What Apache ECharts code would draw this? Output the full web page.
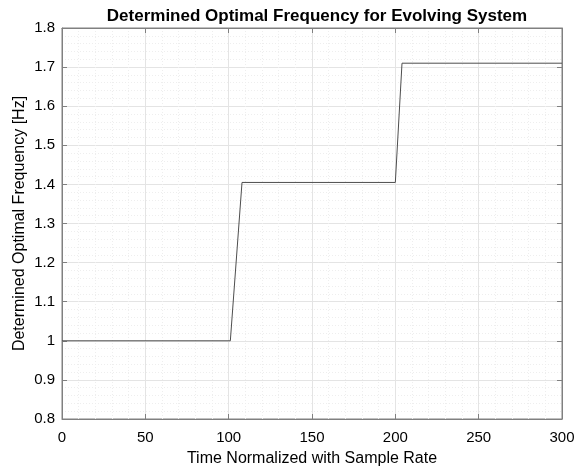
<!DOCTYPE html>
<html><head><meta charset="utf-8">
<script src="https://cdn.jsdelivr.net/npm/echarts@6/dist/echarts.min.js"></script>
<style>html,body{margin:0;padding:0;background:#fff}#c{width:577px;height:468px}</style>
</head><body><div id="c"></div>
<script>
const timeValues = [0, 101, 108, 200, 204, 300];
const freqValues = [1.0, 1.0, 1.405, 1.405, 1.71, 1.71];
const xTicks = [0, 50, 100, 150, 200, 250, 300];
const yTicks = [0.8, 0.9, 1.0, 1.1, 1.2, 1.3, 1.4, 1.5, 1.6, 1.7, 1.8];

const font = 'Liberation Sans, Arial, sans-serif';
const axisColor = '#808080';
const chart = echarts.init(document.getElementById('c'));
const fmt = v => String(Math.round(v * 100) / 100);
const common = {
  axisLine: {show: true, onZero: false, lineStyle: {color: axisColor, width: 1}},
  axisTick: {show: true, inside: true, length: 5, lineStyle: {color: axisColor}},
};
chart.setOption({
  animation: false,
  title: {text: 'Determined Optimal Frequency for Evolving System', left: 312, top: 3, textAlign: 'center',
    textStyle: {fontFamily: font, fontSize: 17, fontWeight: 'bold', color: '#000'}},
  grid: {left: 62, right: 15, top: 28, bottom: 49, show: true, borderColor: axisColor, borderWidth: 1,
    outerBoundsMode: 'none', containLabel: false},
  xAxis: [{
    type: 'value', min: xTicks[0], max: xTicks[xTicks.length - 1], interval: 50,
    name: 'Time Normalized with Sample Rate', nameLocation: 'middle', nameGap: 32,
    nameMoveOverlap: false,
    nameTextStyle: {fontFamily: font, fontSize: 16, color: '#000'},
    axisLabel: {fontFamily: font, fontSize: 15, color: '#000', margin: 11, formatter: fmt},
    ...common,
    minorTick: {show: false, splitNumber: 5},
    splitLine: {show: true, lineStyle: {color: '#e4e4e4', width: 1}},
    minorSplitLine: {show: true, lineStyle: {color: '#eeeeee', width: 1, type: [1, 2]}}
  }, {
    type: 'value', position: 'top', min: 0, max: 300, interval: 50,
    axisLabel: {show: false}, ...common, splitLine: {show: false}
  }],
  yAxis: [{
    type: 'value', min: yTicks[0], max: yTicks[yTicks.length - 1], interval: 0.1,
    name: 'Determined Optimal Frequency [Hz]', nameLocation: 'middle', nameGap: 34,
    nameMoveOverlap: false,
    nameTextStyle: {fontFamily: font, fontSize: 16, color: '#000'},
    axisLabel: {fontFamily: font, fontSize: 15, color: '#000', margin: 7, formatter: fmt},
    ...common,
    minorTick: {show: false, splitNumber: 5},
    splitLine: {show: true, lineStyle: {color: '#e4e4e4', width: 1}},
    minorSplitLine: {show: true, lineStyle: {color: '#eeeeee', width: 1, type: [1, 2]}}
  }, {
    type: 'value', position: 'right', min: 0.8, max: 1.8, interval: 0.1,
    axisLabel: {show: false}, ...common, splitLine: {show: false}
  }],
  series: [{
    type: 'line', data: timeValues.map((t, i) => [t, freqValues[i]]),
    showSymbol: false, symbol: 'none',
    lineStyle: {color: '#4d4d4d', width: 1}
  }]
});
</script></body></html>
